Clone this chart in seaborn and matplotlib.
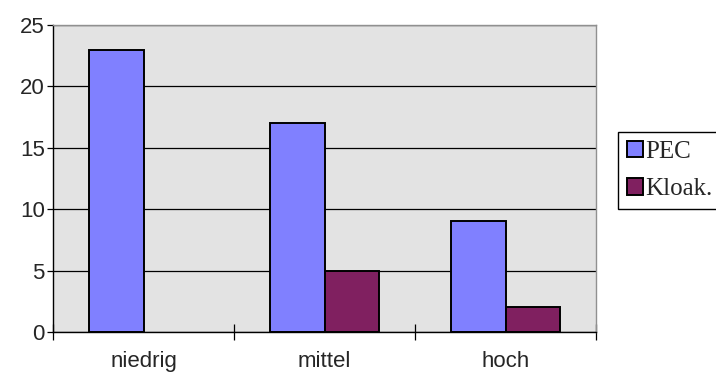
import pandas as pd
import matplotlib.pyplot as plt
import seaborn as sns

categories = ['niedrig', 'mittel', 'hoch']
pec = [23, 17, 9]
kloak = [0, 5, 2]
series_names = ['PEC', 'Kloak.']

df = pd.DataFrame({
    'kategorie': categories * 2,
    'wert': pec + kloak,
    'serie': [series_names[0]] * 3 + [series_names[1]] * 3,
})

sns.set_style('white')
plt.rcParams['font.family'] = ['Liberation Sans', 'DejaVu Sans']

fig = plt.figure(figsize=(7.16, 3.76), dpi=100)
ax = fig.add_axes([53 / 716, 44 / 376, 543 / 716, 307 / 376])

sns.barplot(data=df, x='kategorie', y='wert', hue='serie', order=categories,
            hue_order=series_names, palette={'PEC': '#8080FF', 'Kloak.': '#802060'},
            saturation=1, edgecolor='black', linewidth=1.4, width=0.6, gap=0, ax=ax)

# the zero bar should not leave a visible outline
for container in ax.containers:
    for bar in container:
        if bar.get_height() == 0:
            bar.set_visible(False)

ax.set_facecolor('#E3E3E3')
ax.set_xlim(-0.5, 2.5)
ax.set_ylim(0, 25)
ax.set_yticks([0, 5, 10, 15, 20, 25])
ax.yaxis.grid(True, color='black', linewidth=0.9)
ax.set_axisbelow(True)

ax.set_xlabel('')
ax.set_ylabel('')
ax.set_xticks([-0.5, 0.5, 1.5, 2.5], minor=True)
ax.tick_params(axis='x', which='major', bottom=True, length=0, pad=14, labelsize=16)
ax.tick_params(axis='x', which='minor', bottom=True, length=11, width=0.9,
               color='black', direction='inout')
ax.tick_params(axis='y', left=True, length=4, width=0.9, color='black',
               direction='out', pad=2, labelsize=16)

for side in ['left', 'bottom']:
    ax.spines[side].set_color('black')
    ax.spines[side].set_linewidth(1.0)
for side in ['top', 'right']:
    ax.spines[side].set_visible(True)
    ax.spines[side].set_color('#909090')
    ax.spines[side].set_linewidth(1.0)

ax.get_legend().remove()
handles, labels = ax.get_legend_handles_labels()
for h in handles:
    h.set_visible(True)
leg = fig.legend(handles, labels, loc='upper left', bbox_to_anchor=(618 / 716, 1 - 132 / 376),
                 bbox_transform=fig.transFigure, frameon=True, fancybox=False,
                 edgecolor='black', framealpha=1, borderpad=0.35, borderaxespad=0,
                 handlelength=0.65, handleheight=0.65, handletextpad=0.1,
                 labelspacing=0.6, prop={'family': 'Liberation Serif', 'size': 18})
leg.get_frame().set_linewidth(1.0)

fig.savefig('out.png', dpi=100)
